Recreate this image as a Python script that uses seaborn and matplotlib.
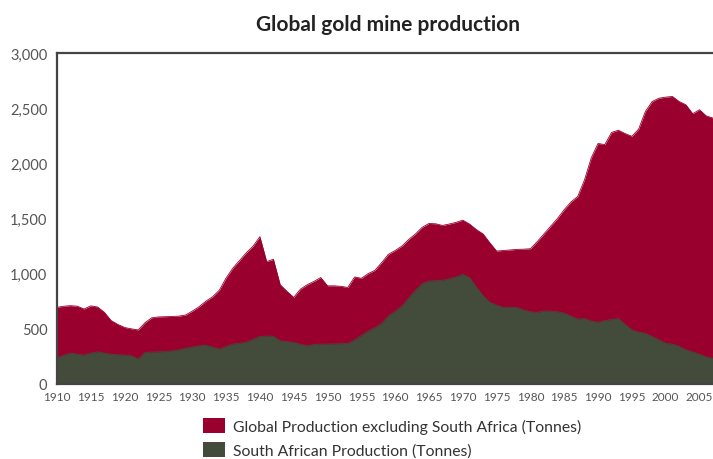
import matplotlib
matplotlib.use("Agg")
import matplotlib.pyplot as plt
from matplotlib.patches import Patch
import numpy as np
import pandas as pd
import seaborn as sns

years = list(range(1910, 2008))

# Total world mine production (tonnes)
world_total = [
    695, 705, 710, 705, 680, 708, 698, 650, 575, 540,
    512, 500, 490, 555, 600, 608, 610, 612, 615, 625,
    660, 700, 750, 790, 850, 960, 1050, 1120, 1190, 1250,
    1335, 1110, 1130, 900, 840, 785, 860, 900, 930, 965,
    890, 890, 885, 875, 970, 958, 1000, 1030, 1100, 1175,
    1210, 1250, 1310, 1360, 1420, 1455, 1452, 1437, 1450, 1465,
    1485, 1450, 1400, 1360, 1280, 1205, 1210, 1215, 1220, 1222,
    1226, 1290, 1360, 1430, 1500, 1580, 1650, 1700, 1850, 2050,
    2180, 2170, 2280, 2300, 2270, 2245, 2310, 2470, 2560, 2590,
    2600, 2606, 2560, 2530, 2450, 2486, 2430, 2410,
]

# South African mine production (tonnes)
south_africa = [
    240, 260, 280, 270, 262, 280, 292, 280, 270, 265,
    262, 256, 226, 286, 290, 292, 295, 300, 310, 325,
    335, 346, 352, 335, 316, 340, 362, 370, 380, 405,
    431, 435, 431, 392, 385, 377, 360, 346, 358, 362,
    362, 364, 366, 368, 400, 440, 480, 510, 550, 617,
    660, 708, 780, 850, 910, 934, 937, 940, 955, 970,
    994, 964, 880, 800, 740, 714, 693, 695, 693, 670,
    655, 648, 663, 660, 655, 642, 615, 588, 594, 570,
    560, 575, 585, 594, 540, 490, 470, 460, 430, 400,
    370, 362, 340, 310, 290, 270, 245, 232,
]

series_labels = [
    "Global Production excluding South Africa (Tonnes)",
    "South African Production (Tonnes)",
]
y_ticks = [0, 500, 1000, 1500, 2000, 2500, 3000]
x_ticks = list(range(1910, 2010, 5))

df = pd.DataFrame({"year": years, "total": world_total, "sa": south_africa})
df["excl_sa"] = df["total"] - df["sa"]

RED = "#9a002e"
GREEN = "#434b3a"

sns.set_theme(style="white")
plt.rcParams["font.family"] = ["Lato", "DejaVu Sans"]

fig = plt.figure(figsize=(7.13, 4.60), dpi=100)
ax = fig.add_axes([57 / 713, 1 - 385 / 460, 1 - 57 / 713, (385 - 54) / 460])

# stacked areas: South Africa at the bottom, rest of world on top
ax.fill_between(df["year"], 0, df["total"], color=RED, linewidth=0)
ax.fill_between(df["year"], 0, df["sa"], color=GREEN, linewidth=0)
sns.lineplot(data=df, x="year", y="total", ax=ax, color=RED, linewidth=0.6)
sns.lineplot(data=df, x="year", y="sa", ax=ax, color=GREEN, linewidth=0.6)

ax.set_xlim(1910, 2007)
ax.set_ylim(0, 3000)
ax.set_yticks(y_ticks)
ax.set_yticklabels([f"{v:,}" for v in y_ticks], fontsize=10.5, color="#555555")
ax.set_xticks(x_ticks)
ax.set_xticklabels([str(v) for v in x_ticks], fontsize=8.5, color="#555555")
ax.tick_params(axis="both", length=0)
ax.tick_params(axis="y", pad=7)
ax.tick_params(axis="x", pad=5)
ax.set_xlabel("")
ax.set_ylabel("")

for side in ("left", "top", "bottom"):
    ax.spines[side].set_color("#444444")
    ax.spines[side].set_linewidth(1.6)
ax.spines["right"].set_visible(False)

fig.text(388 / 713, 1 - 25 / 460, "Global gold mine production",
         ha="center", va="center", fontsize=15, fontweight="bold", color="#222222")

handles = [Patch(facecolor=RED, edgecolor="none"), Patch(facecolor=GREEN, edgecolor="none")]
fig.legend(handles, series_labels, loc="upper left",
           bbox_to_anchor=(203 / 713, 1 - 419 / 460), frameon=False,
           fontsize=11.3, handlelength=1.4, handleheight=1.08,
           handletextpad=0.5, labelspacing=0.55, borderaxespad=0,
           borderpad=0, labelcolor="#333333")

fig.savefig("out.png", dpi=100, facecolor="white")
